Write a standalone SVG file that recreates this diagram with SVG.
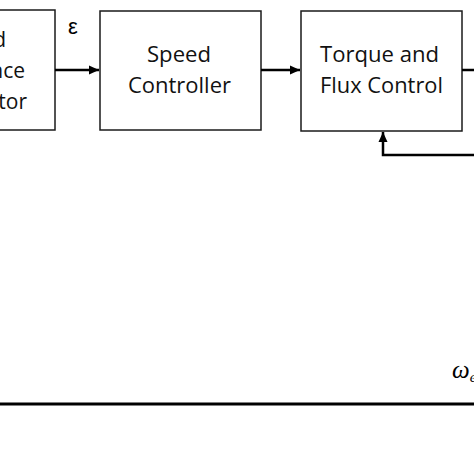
<svg xmlns="http://www.w3.org/2000/svg" width="474" height="474" viewBox="0 0 474 474">
<style>
.box{fill:#fff;stroke:#1a1a1a;stroke-width:1.5}
.lbl{font-family:"Open Sans","Noto Sans",sans-serif;font-size:21px;fill:#111}
.wire{fill:none;stroke:#000;stroke-width:2.5}
</style>
<defs>
<marker id="ah" markerWidth="12" markerHeight="12" refX="10" refY="6" orient="auto" markerUnits="userSpaceOnUse">
<path d="M0,1.5 L10,6 L0,10.5 Z" fill="#000"/>
</marker>
</defs>
<rect width="474" height="474" fill="#fff"/>
<g id="ref-gen">
<rect class="box" x="-20" y="10" width="75" height="120"/>
<text class="lbl" x="6" y="47" text-anchor="end">Speed</text>
<text class="lbl" x="25" y="78" text-anchor="end">Reference</text>
<text class="lbl" x="27" y="109" text-anchor="end">Generator</text>
</g>
<g id="speed-ctrl">
<rect class="box" x="100" y="11" width="161" height="119"/>
<text class="lbl" x="147" y="62" textLength="64" lengthAdjust="spacingAndGlyphs">Speed</text>
<text class="lbl" x="128" y="93" textLength="103" lengthAdjust="spacingAndGlyphs">Controller</text>
</g>
<g id="torque-flux">
<rect class="box" x="301" y="11" width="161" height="120"/>
<text class="lbl" x="320" y="62" textLength="119" lengthAdjust="spacingAndGlyphs">Torque and</text>
<text class="lbl" x="320" y="93" textLength="123" lengthAdjust="spacingAndGlyphs">Flux Control</text>
</g>
<g id="connectors">
<line class="wire" x1="55" y1="70" x2="99" y2="70" marker-end="url(#ah)"/>
<line class="wire" x1="261" y1="70" x2="300" y2="70" marker-end="url(#ah)"/>
<line class="wire" x1="462" y1="70" x2="476" y2="70"/>
<path class="wire" d="M476,155 H383 V132" marker-end="url(#ah)"/>
<line x1="-2" y1="404" x2="476" y2="404" stroke="#000" stroke-width="3"/>
</g>
<g id="labels">
<text x="73" y="34" text-anchor="middle" font-family="Liberation Sans, sans-serif" font-size="22" fill="#000">ε</text>
<text x="452" y="378" font-family="Liberation Serif, serif" font-style="italic" font-size="25" fill="#000">ω<tspan font-size="15" dy="4">e</tspan></text>
</g>
</svg>
